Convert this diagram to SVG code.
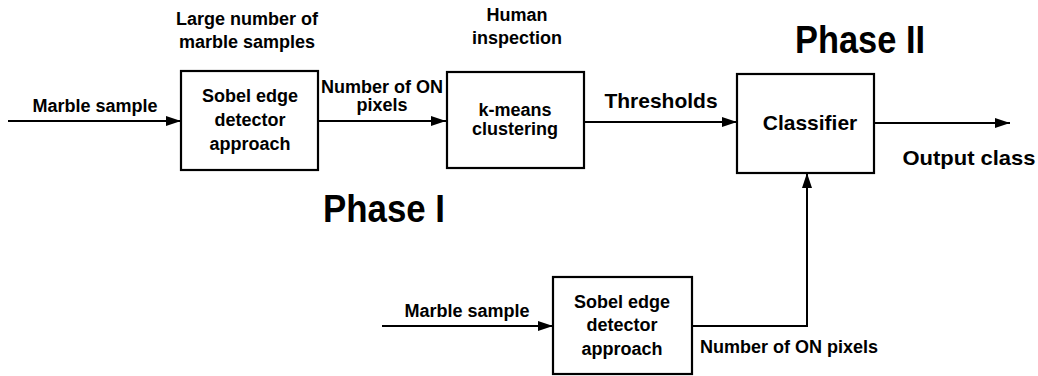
<svg xmlns="http://www.w3.org/2000/svg" width="1038" height="376" viewBox="0 0 1038 376">
<style>
text{font-family:"Liberation Sans",Arial,sans-serif;font-weight:bold;fill:#000}
.s{font-size:18px}
.m{font-size:21px}
.t{font-size:38px}
.box{fill:#fff;stroke:#000;stroke-width:2.2}
.ln{fill:none;stroke:#000;stroke-width:2}
</style>
<defs>
<marker id="ah" markerWidth="15" markerHeight="10" refX="15" refY="5" orient="auto" markerUnits="userSpaceOnUse">
<path d="M0,0 L15,5 L0,10 z" fill="#000"/>
</marker>
</defs>
<rect width="1038" height="376" fill="#fff"/>
<g id="connectors">
<line class="ln" x1="8" y1="121" x2="181" y2="121" marker-end="url(#ah)"/>
<line class="ln" x1="318" y1="121" x2="446" y2="121" marker-end="url(#ah)"/>
<line class="ln" x1="584" y1="122" x2="737" y2="122" marker-end="url(#ah)"/>
<line class="ln" x1="874" y1="123" x2="1010" y2="123" marker-end="url(#ah)"/>
<line class="ln" x1="382" y1="326" x2="553" y2="326" marker-end="url(#ah)"/>
<polyline class="ln" points="692,326 807,326 807,173" marker-end="url(#ah)"/>
</g>
<g id="labels">
<text class="s" x="95" y="112" text-anchor="middle">Marble sample</text>
<text class="s" x="247" y="25" text-anchor="middle">Large number of</text>
<text class="s" x="247" y="48" text-anchor="middle">marble samples</text>
<text class="s" x="382" y="93" text-anchor="middle">Number of ON</text>
<text class="s" x="382" y="111" text-anchor="middle">pixels</text>
<text class="s" x="517" y="21" text-anchor="middle">Human</text>
<text class="s" x="517" y="44" text-anchor="middle">inspection</text>
<text class="m" x="661" y="108" text-anchor="middle">Thresholds</text>
<text class="m" x="969" y="165" text-anchor="middle" textLength="133" lengthAdjust="spacingAndGlyphs">Output class</text>
<text class="t" x="323" y="222" textLength="122" lengthAdjust="spacingAndGlyphs">Phase I</text>
<text class="t" x="795" y="53" textLength="130" lengthAdjust="spacingAndGlyphs">Phase II</text>
<text class="s" x="467" y="317" text-anchor="middle">Marble sample</text>
<text class="s" x="789" y="353" text-anchor="middle">Number of ON pixels</text>
</g>
<g id="sobel1">
<rect class="box" x="181" y="71" width="137" height="99"/>
<text class="s" x="250" y="102" text-anchor="middle">Sobel edge</text>
<text class="s" x="250" y="126" text-anchor="middle">detector</text>
<text class="s" x="250" y="150" text-anchor="middle">approach</text>
</g>
<g id="kmeans">
<rect class="box" x="447" y="72" width="137" height="96"/>
<text class="s" x="515" y="116" text-anchor="middle">k-means</text>
<text class="s" x="515" y="135" text-anchor="middle">clustering</text>
</g>
<g id="classifier">
<rect class="box" x="737" y="74" width="137" height="99"/>
<text class="m" x="810" y="130" text-anchor="middle">Classifier</text>
</g>
<g id="sobel2">
<rect class="box" x="553" y="277" width="139" height="97"/>
<text class="s" x="622" y="308" text-anchor="middle">Sobel edge</text>
<text class="s" x="622" y="331" text-anchor="middle">detector</text>
<text class="s" x="622" y="355" text-anchor="middle">approach</text>
</g>
</svg>
